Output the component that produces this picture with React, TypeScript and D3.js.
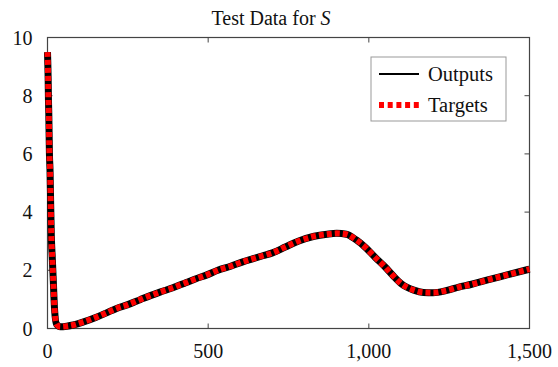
import React, { useEffect, useRef } from 'react';
import * as d3 from 'd3';

// sample index (x) and test-data S values
const sampleX = [0, 2, 3, 4, 6, 8, 10, 12, 15, 18, 22, 28, 40, 60, 80, 110, 150, 180, 215, 250, 290, 320, 350, 390, 425, 460, 500, 530, 570, 610, 640, 670, 700, 740, 780, 830, 870, 900, 930, 960, 990, 1020, 1050, 1075, 1100, 1140, 1170, 1200, 1240, 1280, 1320, 1370, 1430, 1500];
const targets = [9.5, 8.6, 7.85, 7.4, 6.0, 5.4, 4.2, 3.15, 2.4, 1.65, 0.65, 0.15, 0.06, 0.08, 0.12, 0.22, 0.38, 0.52, 0.69, 0.82, 1.0, 1.13, 1.25, 1.4, 1.55, 1.7, 1.86, 2.0, 2.14, 2.3, 2.4, 2.5, 2.6, 2.8, 3.0, 3.17, 3.24, 3.27, 3.24, 3.05, 2.78, 2.44, 2.12, 1.82, 1.55, 1.32, 1.24, 1.23, 1.3, 1.42, 1.52, 1.67, 1.84, 2.04];
// network outputs sit right on top of the targets
const outputs = [9.5, 8.6, 7.85, 7.4, 6.0, 5.4, 4.2, 3.15, 2.4, 1.65, 0.65, 0.15, 0.06, 0.08, 0.12, 0.22, 0.38, 0.52, 0.69, 0.82, 1.0, 1.13, 1.25, 1.4, 1.55, 1.7, 1.86, 2.0, 2.14, 2.3, 2.4, 2.5, 2.6, 2.8, 3.0, 3.17, 3.24, 3.27, 3.24, 3.05, 2.78, 2.44, 2.12, 1.82, 1.55, 1.32, 1.24, 1.23, 1.3, 1.42, 1.52, 1.67, 1.84, 2.04];

const xTicks = [0, 500, 1000, 1500];
const yTicks = [0, 2, 4, 6, 8, 10];
const legendLabels = ['Outputs', 'Targets'];

const TestDataChart = () => {
  const ref = useRef<SVGSVGElement>(null);

  useEffect(() => {
    const width = 558;
    const height = 367;
    const margin = { top: 37.5, right: 28.5, bottom: 38.5, left: 47.5 };
    const innerWidth = width - margin.left - margin.right;
    const innerHeight = height - margin.top - margin.bottom;
    const font = '"Liberation Serif", "Times New Roman", serif';
    const axisColor = '#444';

    const svg = d3.select(ref.current)
      .attr('width', width)
      .attr('height', height)
      .style('font-family', font);

    svg.selectAll('*').remove();

    const g = svg.append('g').attr('transform', `translate(${margin.left},${margin.top})`);

    const x = d3.scaleLinear().domain([0, 1500]).range([0, innerWidth]);
    const y = d3.scaleLinear().domain([0, 10]).range([innerHeight, 0]);

    // title
    const title = svg.append('text')
      .attr('x', 271)
      .attr('y', 25)
      .attr('text-anchor', 'middle')
      .style('font-size', '20px')
      .attr('fill', '#111');
    title.append('tspan').text('Test Data for ');
    title.append('tspan').style('font-style', 'italic').text('S');

    // box
    g.append('rect')
      .attr('width', innerWidth)
      .attr('height', innerHeight)
      .attr('fill', 'none')
      .attr('stroke', axisColor)
      .attr('stroke-width', 1.2);

    const tickLen = 5;
    const fmt = d3.format(',');

    // x ticks, bottom and top, pointing inwards
    xTicks.forEach(t => {
      g.append('line').attr('x1', x(t)).attr('x2', x(t)).attr('y1', innerHeight).attr('y2', innerHeight - tickLen)
        .attr('stroke', axisColor);
      g.append('line').attr('x1', x(t)).attr('x2', x(t)).attr('y1', 0).attr('y2', tickLen)
        .attr('stroke', axisColor);
      g.append('text')
        .attr('x', x(t))
        .attr('y', innerHeight + 29)
        .attr('text-anchor', 'middle')
        .style('font-size', '20px')
        .attr('fill', '#111')
        .text(fmt(t));
    });

    // y ticks, left and right
    yTicks.forEach(t => {
      g.append('line').attr('x1', 0).attr('x2', tickLen).attr('y1', y(t)).attr('y2', y(t))
        .attr('stroke', axisColor);
      g.append('line').attr('x1', innerWidth).attr('x2', innerWidth - tickLen).attr('y1', y(t)).attr('y2', y(t))
        .attr('stroke', axisColor);
      g.append('text')
        .attr('x', -15)
        .attr('y', y(t))
        .attr('dy', '0.35em')
        .attr('text-anchor', 'end')
        .style('font-size', '20px')
        .attr('fill', '#111')
        .text(t);
    });

    const line = d3.line<number>()
      .x((_, i) => x(sampleX[i]))
      .y(d => y(d))
      .curve(d3.curveMonotoneX);

    // outputs: solid black
    g.append('path')
      .datum(outputs)
      .attr('d', line)
      .attr('fill', 'none')
      .attr('stroke', '#000')
      .attr('stroke-width', 7);

    // targets: thick red dashes on top
    g.append('path')
      .datum(targets)
      .attr('d', line)
      .attr('fill', 'none')
      .attr('stroke', '#ff0000')
      .attr('stroke-width', 6)
      .attr('stroke-dasharray', '5,3');

    // legend
    const lg = svg.append('g').attr('transform', 'translate(371,57)');
    lg.append('rect')
      .attr('width', 135)
      .attr('height', 64)
      .attr('fill', '#fff')
      .attr('stroke', '#999')
      .attr('stroke-width', 1);

    legendLabels.forEach((label, i) => {
      const cy = 17 + i * 31;
      const item = lg.append('line')
        .attr('x1', 8)
        .attr('x2', 48)
        .attr('y1', cy)
        .attr('y2', cy);
      if (i === 0) {
        item.attr('stroke', '#000').attr('stroke-width', 1.8);
      } else {
        item.attr('stroke', '#ff0000').attr('stroke-width', 6).attr('stroke-dasharray', '5,3.7');
      }
      lg.append('text')
        .attr('x', 57)
        .attr('y', cy)
        .attr('dy', '0.33em')
        .style('font-size', '20.5px')
        .attr('fill', '#111')
        .text(label);
    });
  }, []);

  return <svg ref={ref} style={{ position: 'absolute', left: 0, top: 0 }} />;
};

export default function App() {
  return <TestDataChart />;
}
